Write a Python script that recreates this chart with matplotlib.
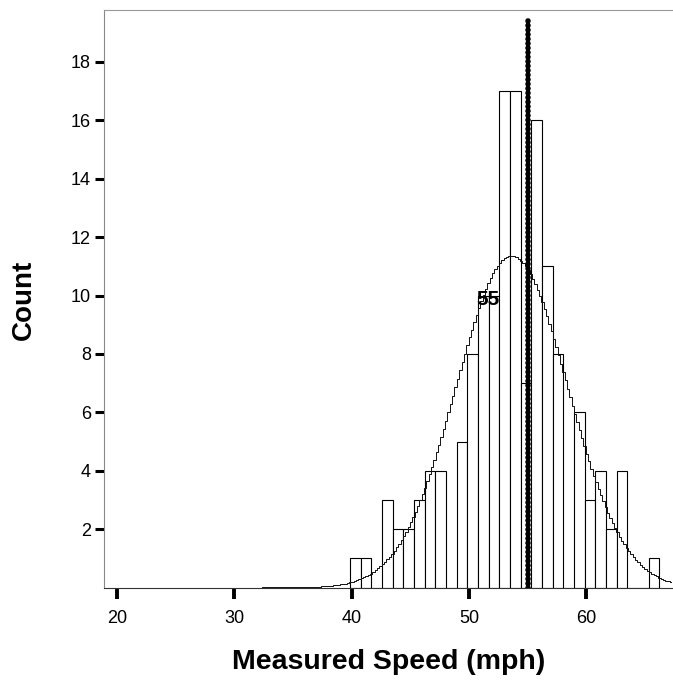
import numpy as np
import matplotlib
matplotlib.use("Agg")
import matplotlib.pyplot as plt

plt.rcParams['font.family'] = ['Liberation Sans', 'DejaVu Sans']

# histogram of measured speeds (bins of ~0.91 mph)
bin_start = 39.855
bin_width = 0.91
counts = np.array([1, 1, 0, 3, 2, 2, 3, 4, 4, 0,
                   5, 8, 10, 10, 17, 17, 7, 16, 11, 8,
                   0, 6, 3, 4, 2, 4, 0, 0, 1])

# fitted normal curve
curve_mean = 53.65
curve_sd = 4.76

ref_value = 55
ref_label = "55"

x_ticks = [20, 30, 40, 50, 60]
y_ticks = [2, 4, 6, 8, 10, 12, 14, 16, 18]

edges = bin_start + bin_width * np.arange(len(counts) + 1)

fig = plt.figure(figsize=(6.73, 6.83), dpi=100)
ax = fig.add_axes([0.1545, 0.1398, 0.8455, 0.8456])

ax.bar(edges[:-1], counts, width=bin_width, align='edge',
       facecolor='white', edgecolor='black', linewidth=0.8, zorder=2)

# normal curve, drawn as a fine staircase like the original renderer
xs = np.arange(18.87, 67.45, 0.2)
ys = counts.sum() * bin_width / (curve_sd * np.sqrt(2 * np.pi)) * \
    np.exp(-0.5 * ((xs - curve_mean) / curve_sd) ** 2)
ax.plot(xs, ys, drawstyle='steps-mid', color='#111111', linewidth=0.7, zorder=3)

# reference line
ax.plot([ref_value, ref_value], [0, 19.5], color='black', linewidth=4.0,
        linestyle=(0, (0.01, 0.8)), dash_capstyle='round', zorder=4)
ax.text(51.67, 9.85, ref_label, ha='center', va='center',
        fontsize=15, fontweight='bold', zorder=5)

ax.set_xlim(18.87, 67.41)
ax.set_ylim(0, 19.78)
ax.set_xticks(x_ticks)
ax.set_yticks(y_ticks)
ax.tick_params(axis='y', direction='out', length=6.5, width=2.2,
               color='black', labelsize=13, pad=3)
ax.tick_params(axis='x', direction='out', length=8, width=2.8,
               color='black', labelsize=13, pad=8)

ax.spines['right'].set_visible(False)
ax.spines['left'].set_color('#888888')
ax.spines['top'].set_color('#999999')
ax.spines['bottom'].set_color('#333333')
for s in ['left', 'top', 'bottom']:
    ax.spines[s].set_linewidth(0.8)

ax.set_ylabel('Count', fontsize=20, fontweight='bold')
ax.yaxis.set_label_coords(-0.118, 0.498)
ax.set_xlabel('Measured Speed (mph)', fontsize=20.5, fontweight='bold')
ax.xaxis.set_label_coords(0.50, -0.106)

fig.savefig('out.png', dpi=100)
